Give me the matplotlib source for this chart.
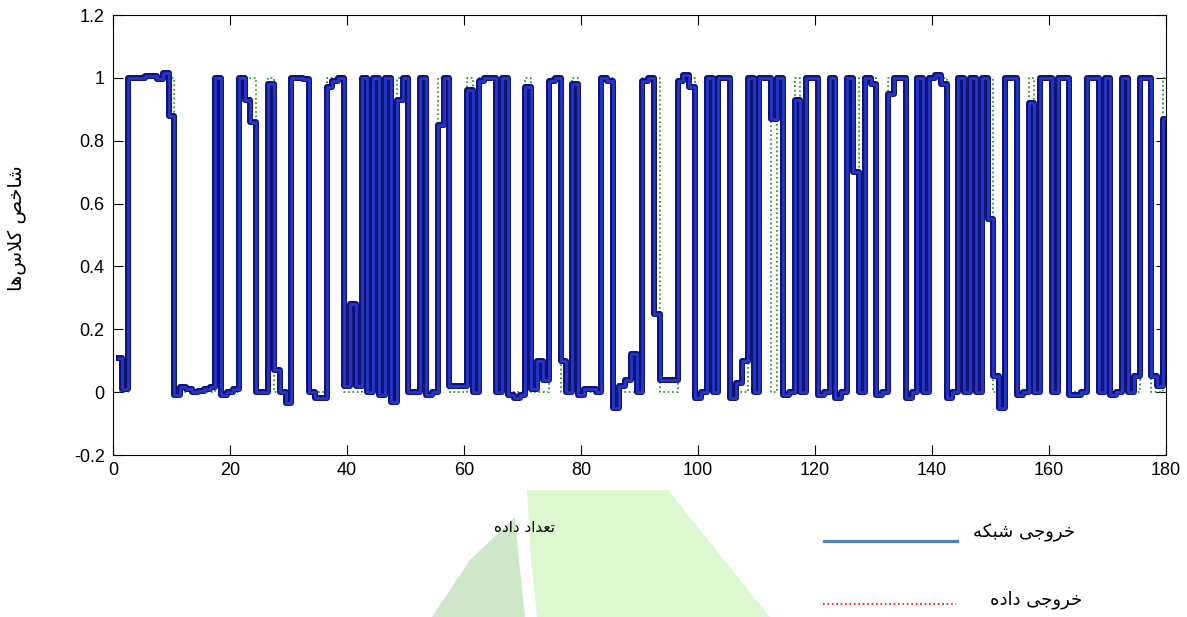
import numpy as np
import matplotlib
matplotlib.use('Agg')
import matplotlib.pyplot as plt
from matplotlib.patches import Polygon
from matplotlib.lines import Line2D

plt.rcParams['font.family'] = ['Liberation Sans Narrow', 'Liberation Sans', 'DejaVu Sans']

# network output, one value per sample 1..180
net_output = [
    0.11, 0.01, 1.0, 1.0, 1.0, 1.005, 1.005, 0.995, 1.015, 0.88,
    -0.01, 0.015, 0.01, 0.0, 0.005, 0.01, 0.015, 1.0, -0.01, 0.0,
    0.01, 1.0, 0.93, 0.86, 0.0, 0.0, 0.98, 0.07, 0.0, -0.035,
    1.0, 1.0, 0.995, 0.0, -0.02, -0.02, 0.97, 0.99, 1.0, 0.02,
    0.28, 0.02, 1.0, 0.0, 1.0, -0.01, 1.0, -0.03, 0.93, 1.0,
    0.0, 0.0, 1.0, -0.01, 0.0, 0.85, 1.0, 0.02, 0.02, 0.02,
    0.96, 0.0, 0.99, 1.0, 1.0, 0.0, 1.0, -0.01, -0.02, -0.01,
    0.97, 0.01, 0.1, 0.04, 0.99, 1.0, 0.1, 0.0, 0.98, -0.01,
    0.01, 0.01, 0.0, 1.0, 0.99, -0.05, 0.02, 0.04, 0.12, 0.0,
    0.99, 1.0, 0.25, 0.04, 0.04, 0.04, 0.99, 1.01, 0.97, -0.02,
    0.0, 1.0, 0.0, 1.0, 1.0, -0.02, 0.03, 0.1, 1.0, 0.0,
    1.0, 1.0, 0.87, 1.0, -0.01, 0.0, 0.93, 0.0, 1.0, 1.0,
    -0.01, 0.0, 1.0, -0.02, 0.0, 1.0, 0.7, 0.0, 1.0, 0.98,
    -0.01, 0.0, 0.95, 1.0, 1.0, -0.02, 0.0, 1.0, 0.0, 1.0,
    1.01, 0.98, -0.02, 0.0, 1.0, 0.0, 1.0, 0.0, 1.0, 0.55,
    0.05, -0.05, 1.0, 1.0, -0.01, 0.0, 0.92, 0.0, 1.0, 1.0,
    0.0, 1.0, 1.0, -0.01, -0.01, 0.0, 1.0, 1.0, 0.0, 1.0,
    -0.01, 0.0, 1.0, 0.0, 0.05, 1.0, 1.0, 0.05, 0.02, 0.87,
]

# target classes
target_output = [
    0, 0, 1, 1, 1, 1, 1, 1, 1, 1,
    0, 0, 0, 0, 0, 0, 0, 1, 0, 0,
    0, 1, 1, 1, 0, 0, 1, 0, 0, 0,
    1, 1, 1, 0, 0, 0, 1, 1, 1, 0,
    0, 0, 1, 0, 1, 0, 1, 0, 1, 1,
    0, 0, 1, 0, 0, 1, 1, 0, 0, 0,
    1, 0, 1, 1, 1, 0, 1, 0, 0, 0,
    1, 0, 0, 0, 1, 1, 0, 0, 1, 0,
    0, 0, 0, 1, 1, 0, 0, 0, 0, 0,
    1, 1, 1, 0, 0, 0, 1, 1, 1, 0,
    0, 1, 0, 1, 1, 0, 0, 0, 1, 0,
    1, 1, 0, 1, 0, 0, 1, 0, 1, 1,
    0, 0, 1, 0, 0, 1, 1, 0, 1, 1,
    0, 0, 1, 1, 1, 0, 0, 1, 0, 1,
    1, 1, 0, 0, 1, 0, 1, 0, 1, 1,
    0, 0, 1, 1, 0, 0, 1, 0, 1, 1,
    0, 1, 1, 0, 0, 0, 1, 1, 0, 1,
    0, 0, 1, 0, 0, 1, 1, 0, 0, 1,
]

x_ticks = [0, 20, 40, 60, 80, 100, 120, 140, 160, 180]
y_ticks = [-0.2, 0, 0.2, 0.4, 0.6, 0.8, 1.0, 1.2]
y_tick_labels = ['-0.2', '0', '0.2', '0.4', '0.6', '0.8', '1', '1.2']

x_label = 'تعداد داده'
y_label = 'شاخص کلاس‌ها'
net_label = 'خروجی شبکه'
target_label = 'خروجی داده'


# matplotlib has no arabic shaping, so pick presentation forms by hand
FORMS = {
    '\u0627': ('\uFE8D', '\uFE8E', None, None),
    '\u0628': ('\uFE8F', '\uFE90', '\uFE91', '\uFE92'),
    '\u062A': ('\uFE95', '\uFE96', '\uFE97', '\uFE98'),
    '\u062C': ('\uFE9D', '\uFE9E', '\uFE9F', '\uFEA0'),
    '\u062E': ('\uFEA5', '\uFEA6', '\uFEA7', '\uFEA8'),
    '\u062F': ('\uFEA9', '\uFEAA', None, None),
    '\u0631': ('\uFEAD', '\uFEAE', None, None),
    '\u0633': ('\uFEB1', '\uFEB2', '\uFEB3', '\uFEB4'),
    '\u0634': ('\uFEB5', '\uFEB6', '\uFEB7', '\uFEB8'),
    '\u0635': ('\uFEB9', '\uFEBA', '\uFEBB', '\uFEBC'),
    '\u0639': ('\uFEC9', '\uFECA', '\uFECB', '\uFECC'),
    '\u0644': ('\uFEDD', '\uFEDE', '\uFEDF', '\uFEE0'),
    '\u0647': ('\uFEE9', '\uFEEA', '\uFEEB', '\uFEEC'),
    '\u0648': ('\uFEED', '\uFEEE', None, None),
    '\u06A9': ('\uFB8E', '\uFB8F', '\uFB90', '\uFB91'),
    '\u06CC': ('\uFBFC', '\uFBFD', '\uFBFE', '\uFBFF'),
}


def joins_next(c):
    return c in FORMS and FORMS[c][2] is not None


def shape(s):
    res = []
    i = 0
    while i < len(s):
        c = s[i]
        if c == '\u200c':
            i += 1
            continue
        if c not in FORMS:
            res.append(c)
            i += 1
            continue
        conn_prev = i > 0 and joins_next(s[i-1])
        if c == '\u0644' and i+1 < len(s) and s[i+1] == '\u0627':
            res.append('\uFEFC' if conn_prev else '\uFEFB')
            i += 2
            continue
        conn_next = joins_next(c) and i+1 < len(s) and s[i+1] in FORMS
        iso, fin, ini, med = FORMS[c]
        if conn_prev and conn_next:
            res.append(med)
        elif conn_prev:
            res.append(fin)
        elif conn_next:
            res.append(ini)
        else:
            res.append(iso)
        i += 1
    return ''.join(reversed(res))


W, H = 1187, 617


def fx(px):
    return px / W


def fy(py):
    return 1 - py / H


fig = plt.figure(figsize=(W/100, H/100), dpi=100)

# green watermark shapes behind the labels
light = [(527, 490), (668, 490), (770, 617), (537, 617), (531, 560)]
dark = [(515, 517), (519, 560), (525, 617), (432, 617), (470, 560)]
fig.add_artist(Polygon([(fx(a), fy(b)) for a, b in light], closed=True,
                       transform=fig.transFigure, color='#dcf8d0', lw=0, zorder=0))
fig.add_artist(Polygon([(fx(a), fy(b)) for a, b in dark], closed=True,
                       transform=fig.transFigure, color='#cfe6c8', lw=0, zorder=0))

ax = fig.add_axes([fx(113), fy(455), (1166-113)/W, (455-15)/H])
x = np.arange(1, len(net_output)+1)

ax.plot(x, target_output, ':', color='#1a8a1a', lw=1.2, drawstyle='steps-mid', zorder=2)
ax.plot(x, net_output, color='#0e1275', lw=4.3, drawstyle='steps-mid', zorder=3)
ax.plot(x, net_output, color='#2536c8', lw=2.0, drawstyle='steps-mid', zorder=4)

ax.set_xlim(0, 180)
ax.set_ylim(-0.2, 1.2)
ax.set_xticks(x_ticks)
ax.set_yticks(y_ticks)
ax.set_yticklabels(y_tick_labels)
ax.tick_params(direction='in', length=7, width=0.8, top=True, right=True, labelsize=13)
ax.tick_params(axis='x', pad=5)
ax.tick_params(axis='y', pad=6)
for sp in ax.spines.values():
    sp.set_linewidth(0.8)

fa = ['DejaVu Sans']
fig.text(fx(524), fy(527), shape(x_label), ha='center', va='center', fontsize=11, family=fa)
fig.text(fx(17), fy(228), shape(y_label), ha='center', va='center', rotation=90, fontsize=14, family=fa)

# hand drawn legend under the chart
fig.add_artist(Line2D([fx(824), fx(957)], [fy(541), fy(541)], color='#4f81bd', lw=2.3,
                      transform=fig.transFigure))
fig.add_artist(Line2D([fx(823), fx(956)], [fy(604), fy(604)], color='red', lw=1.2, ls=':',
                      transform=fig.transFigure))
fig.text(fx(1024), fy(533), shape(net_label), ha='center', va='center', fontsize=13, family=fa)
fig.text(fx(1036), fy(600), shape(target_label), ha='center', va='center', fontsize=13, family=fa)

fig.savefig('out.png', dpi=100)
